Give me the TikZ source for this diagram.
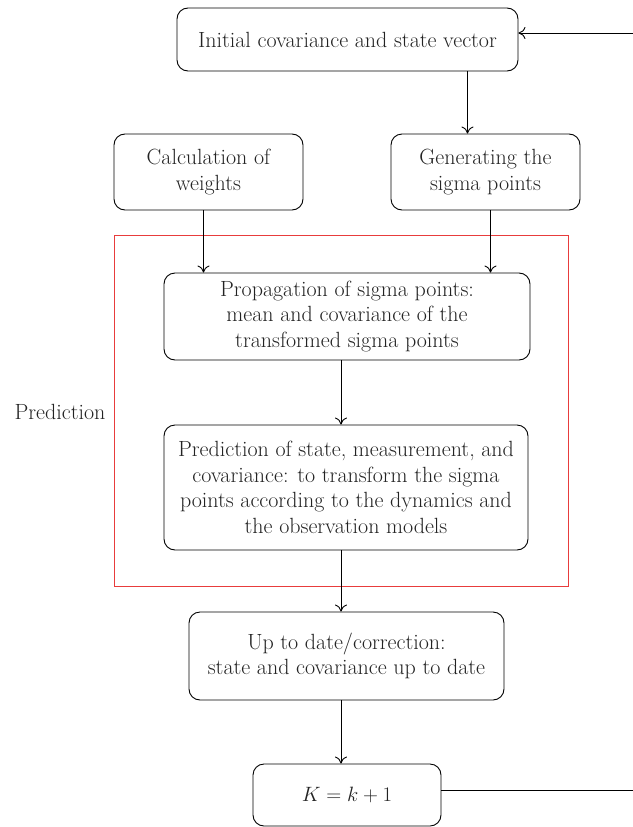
\documentclass[tikz,border=0pt]{standalone}
\usepackage{fontspec}
\setmainfont{Latin Modern Roman}
\usetikzlibrary{arrows.meta,calc}
\definecolor{boxred}{RGB}{232,60,60}
\definecolor{ink}{RGB}{35,35,35}
\begin{document}
\begin{tikzpicture}[x=1pt,y=-1pt,
  box/.style={draw,rounded corners=11pt,line width=0.9pt,align=center,inner sep=0pt,
    text=ink,font=\fontsize{22}{25.5}\selectfont},
  arr/.style={-{To[length=7pt,width=12pt]},line width=0.9pt},
  lbl/.style={text=ink,font=\fontsize{22}{25.5}\selectfont}]
\useasboundingbox (0,0) rectangle (632,827);
\draw[boxred,line width=0.9pt] (114,235) rectangle (568,586);
\node[box,minimum width=341pt,minimum height=63pt] (init) at (347.5,39.5) {Initial covariance and state vector};
\node[box,minimum width=189pt,minimum height=76pt] (calc) at (208.5,172) {Calculation of\\weights};
\node[box,minimum width=189pt,minimum height=76pt] (gen) at (485.5,172) {Generating the\\sigma points};
\node[box,minimum width=366pt,minimum height=87pt] (prop) at (347,316.5) {Propagation of sigma points:\\mean and covariance of the\\transformed sigma points};
\node[box,minimum width=364pt,minimum height=125pt] (pred) at (346,487.5) {Prediction of state, measurement, and\\covariance: to transform the sigma\\points according to the dynamics and\\the observation models};
\node[box,minimum width=315pt,minimum height=88pt] (upd) at (346.5,656) {Up to date/correction:\\state and covariance up to date};
\node[box,minimum width=188pt,minimum height=62pt] (kk) at (347,795) {$K = k + 1$};
\node[lbl] (predlbl) at (60,412) {Prediction};
\coordinate (a1) at ([xshift=120pt]init.south);
\draw[arr] (a1) -- (a1 |- gen.north);
\coordinate (a2) at ([xshift=-5pt]calc.south);
\draw[arr] (a2) -- (a2 |- prop.north);
\coordinate (a3) at ([xshift=5pt]gen.south);
\draw[arr] (a3) -- (a3 |- prop.north);
\coordinate (a4) at ([xshift=-6pt]prop.south);
\draw[arr] (a4) -- (a4 |- pred.north);
\coordinate (a5) at ([xshift=-5pt]pred.south);
\draw[arr] (a5) -- (a5 |- upd.north);
\coordinate (a6) at ([xshift=-5.5pt]upd.south);
\draw[arr] (a6) -- (a6 |- kk.north);
\coordinate (r1) at (634,790);
\coordinate (r2) at (634,33);
\draw[arr] (kk.east |- r1) -- (r1) -- (r2) -- (init.east |- r2);
\end{tikzpicture}
\end{document}
